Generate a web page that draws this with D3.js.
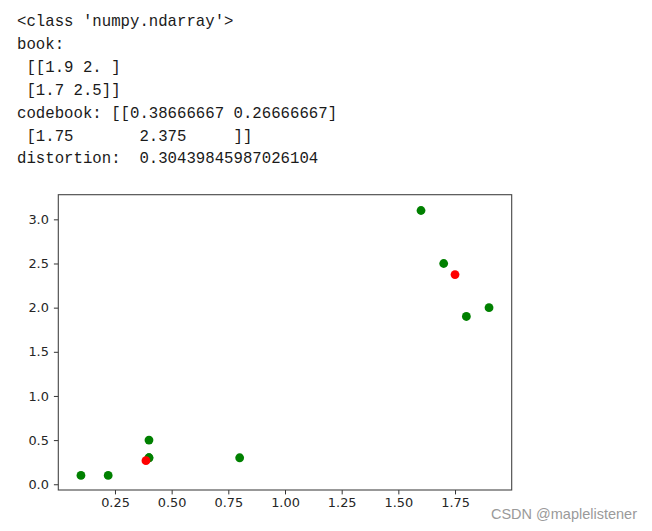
<!DOCTYPE html>
<html><head><meta charset="utf-8">
<script src="https://cdn.jsdelivr.net/npm/d3@7"></script>
<style>body{margin:0;background:#fff}svg{display:block}</style>
</head><body>
<script>
const outputLines = [
  "<class 'numpy.ndarray'>",
  "book:",
  " [[1.9 2. ]",
  " [1.7 2.5]]",
  "codebook: [[0.38666667 0.26666667]",
  " [1.75       2.375     ]]",
  "distortion:  0.30439845987026104"
];
const pointsX = [0.1, 0.22, 0.4, 0.4, 0.4, 0.8, 1.6, 1.7, 1.8, 1.9];
const pointsY = [0.1, 0.1, 0.5, 0.3, 0.3, 0.3, 3.1, 2.5, 1.9, 2.0];
const codebookX = [0.38666667, 1.75];
const codebookY = [0.26666667, 2.375];
const xTicks = [0.25, 0.50, 0.75, 1.00, 1.25, 1.50, 1.75];
const yTicks = [0.0, 0.5, 1.0, 1.5, 2.0, 2.5, 3.0];
const xDomain = [0.0, 2.0];
const yDomain = [-0.065, 3.279];

const W = 652, H = 531;
const svg = d3.select("body").append("svg").attr("width", W).attr("height", H);

// console-style output text
svg.append("g").selectAll("text").data(outputLines).join("text")
  .attr("x", 17)
  .attr("y", (d, i) => 26 + i * 22.9)
  .attr("font-family", "Liberation Mono, monospace")
  .attr("font-size", "15.7px")
  .attr("fill", "#1a1a1a")
  .attr("xml:space", "preserve")
  .style("white-space", "pre")
  .text(d => d);

const L = 58.3, R = 511.7, T = 194.7, B = 490;
const x = d3.scaleLinear().domain(xDomain).range([L, R]);
const y = d3.scaleLinear().domain(yDomain).range([B, T]);

const xAxis = svg.append("g").attr("transform", `translate(0,${B})`)
  .call(d3.axisBottom(x).tickValues(xTicks).tickFormat(d3.format(".2f")).tickSize(4.4).tickPadding(3.5).tickSizeOuter(0));
const yAxis = svg.append("g").attr("transform", `translate(${L},0)`)
  .call(d3.axisLeft(y).tickValues(yTicks).tickFormat(d3.format(".1f")).tickSize(4.4).tickPadding(5).tickSizeOuter(0));
[xAxis, yAxis].forEach(a => {
  a.select(".domain").remove();
  a.selectAll("line").attr("stroke", "#333").attr("stroke-width", 1);
  a.selectAll("text").attr("font-family", "DejaVu Sans, sans-serif").attr("font-size", "12.9px").attr("fill", "#262626");
});

// frame
svg.append("rect").attr("x", L).attr("y", T).attr("width", R - L).attr("height", B - T)
  .attr("fill", "none").attr("stroke", "#444").attr("stroke-width", 1.1);

const plot = svg.append("g");
plot.selectAll("circle.g").data(pointsX.map((v, i) => [v, pointsY[i]])).join("circle")
  .attr("class", "g")
  .attr("cx", d => x(d[0])).attr("cy", d => y(d[1])).attr("r", 4.4).attr("fill", "#008000");
plot.selectAll("circle.r").data(codebookX.map((v, i) => [v, codebookY[i]])).join("circle")
  .attr("class", "r")
  .attr("cx", d => x(d[0])).attr("cy", d => y(d[1])).attr("r", 4.4).attr("fill", "#ff0000");

// watermark
svg.append("text").attr("x", 637).attr("y", 519).attr("text-anchor", "end")
  .attr("font-family", "Liberation Sans, Arial, sans-serif").attr("font-size", "14.5px")
  .attr("fill", "#9a9a9a").text("CSDN @maplelistener");
</script>
</body></html>
